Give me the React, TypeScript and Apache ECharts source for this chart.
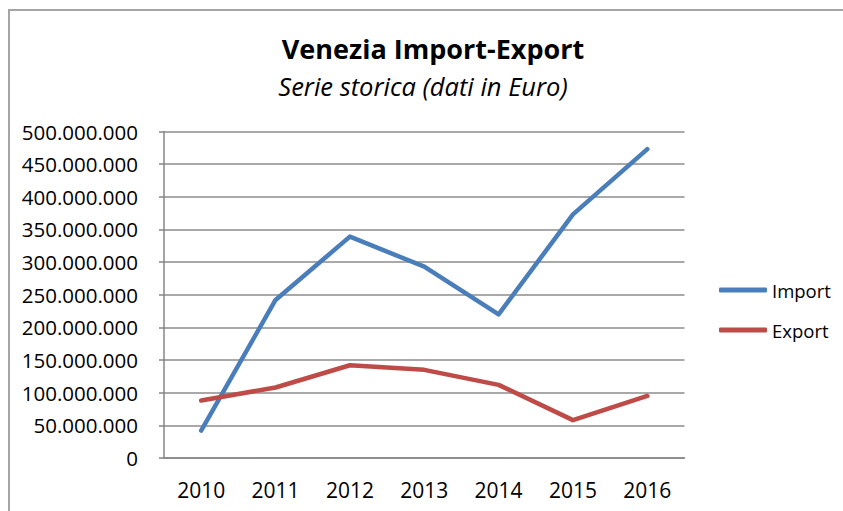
import React, { useEffect, useRef } from "react";
import * as echarts from "echarts";

const years = ["2010", "2011", "2012", "2013", "2014", "2015", "2016"];
const importValues = [42000000, 242000000, 339000000, 293000000, 220000000, 373000000, 473000000];
const exportValues = [88000000, 108000000, 142000000, 135000000, 112000000, 58000000, 95000000];
const titleText = "Venezia Import-Export";
const subtitleText = "Serie storica (dati in Euro)";

const FONT = "'Open Sans', 'Noto Sans', sans-serif";

function fmt(v: number): string {
  return String(Math.round(v)).replace(/\B(?=(\d{3})+(?!\d))/g, ".");
}

export default function App() {
  const ref = useRef<HTMLDivElement>(null);
  useEffect(() => {
    if (!ref.current) return;
    const chart = echarts.init(ref.current, undefined, { renderer: "svg" });
    chart.setOption({
      animation: false,
      backgroundColor: "#ffffff",
      title: [
        {
          text: titleText,
          left: 433,
          top: 33,
          padding: 0,
          textAlign: "center",
          textStyle: { fontFamily: FONT, fontSize: 27, fontWeight: "bold", color: "#000", lineHeight: 30 },
        },
        {
          text: subtitleText,
          left: 423,
          top: 72,
          padding: 0,
          textAlign: "center",
          textStyle: { fontFamily: FONT, fontSize: 25.5, fontStyle: "italic", fontWeight: "normal", color: "#000", lineHeight: 28 },
        },
      ],
      graphic: [
        {
          type: "polyline",
          shape: { points: [[9, 511], [9, 10], [843, 10]] },
          style: { stroke: "#a5a5a5", lineWidth: 2, fill: null },
          silent: true,
        },
      ],
      legend: {
        orient: "vertical",
        left: 719,
        top: 279,
        padding: 0,
        itemWidth: 48,
        itemHeight: 5,
        itemGap: 18,
        icon: "roundRect",
        textStyle: { fontFamily: FONT, fontSize: 18.5, color: "#000", lineHeight: 22 },
        data: ["Import", "Export"],
      },
      grid: { left: 164, right: 158.5, top: 131.5, bottom: 53 },
      xAxis: {
        type: "category",
        data: years,
        boundaryGap: true,
        axisLine: { show: true, lineStyle: { color: "#868686", width: 1.5 } },
        axisTick: { show: false },
        axisLabel: { fontFamily: FONT, fontSize: 21, color: "#000", margin: 21 },
        splitLine: { show: false },
      },
      yAxis: {
        type: "value",
        min: 0,
        max: 500000000,
        interval: 50000000,
        axisLine: { show: true, lineStyle: { color: "#868686", width: 1.5 } },
        axisTick: { show: true, length: 5, lineStyle: { color: "#868686", width: 1.5 } },
        axisLabel: { fontFamily: FONT, fontSize: 20.5, color: "#000", margin: 26, formatter: (v: number) => fmt(v) },
        splitLine: { show: true, lineStyle: { color: "#8c8c8c", width: 1.5 } },
      },
      series: [
        {
          name: "Import",
          type: "line",
          data: importValues,
          symbol: "none",
          lineStyle: { color: "#4a7ebb", width: 4.5, cap: "round", join: "round" },
          itemStyle: { color: "#4a7ebb" },
        },
        {
          name: "Export",
          type: "line",
          data: exportValues,
          symbol: "none",
          lineStyle: { color: "#be4b48", width: 4.5, cap: "round", join: "round" },
          itemStyle: { color: "#be4b48" },
        },
      ],
    });
    return () => chart.dispose();
  }, []);
  return (
    <div
      ref={ref}
      style={{ position: "fixed", left: 0, top: 0, width: 843, height: 511, background: "#fff" }}
    />
  );
}
